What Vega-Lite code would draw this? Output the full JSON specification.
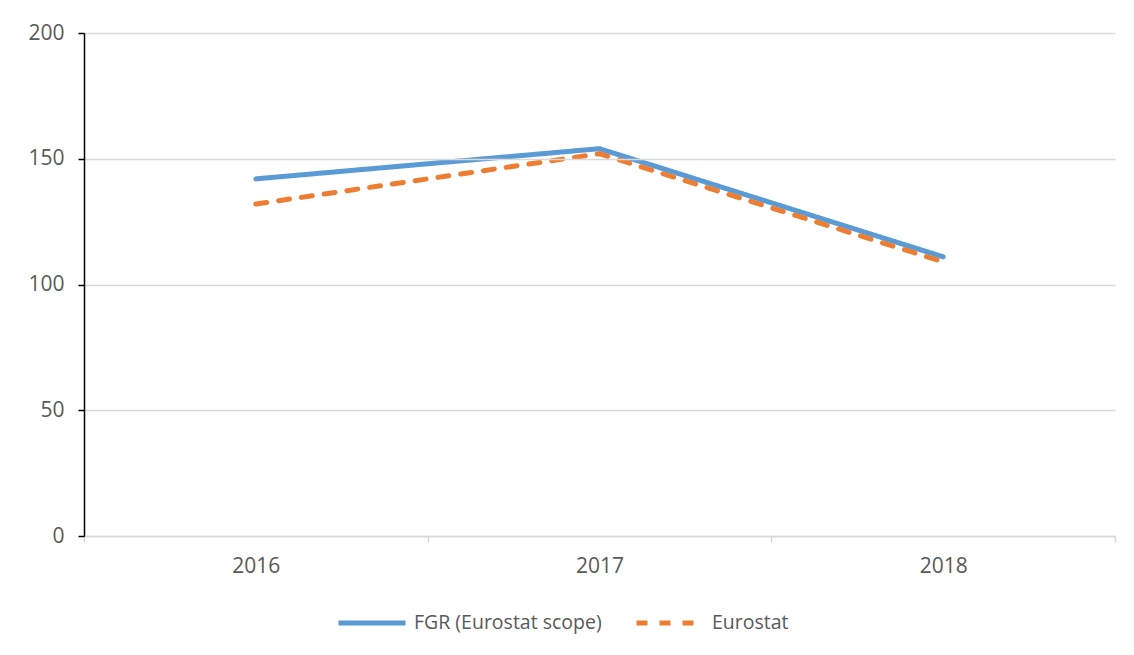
{
  "$schema": "https://vega.github.io/schema/vega-lite/v6.json",
  "width": 1031,
  "height": 503,
  "autosize": {"type": "none"},
  "padding": {"left": 84, "top": 33, "right": 19, "bottom": 119},
  "background": "white",
  "config": {
    "view": {"stroke": null},
    "font": "Open Sans"
  },
  "data": {
    "values": [
      {"year": "2016", "series": "FGR (Eurostat scope)", "value": 142},
      {"year": "2017", "series": "FGR (Eurostat scope)", "value": 154},
      {"year": "2018", "series": "FGR (Eurostat scope)", "value": 111},
      {"year": "2016", "series": "Eurostat", "value": 132},
      {"year": "2017", "series": "Eurostat", "value": 152},
      {"year": "2018", "series": "Eurostat", "value": 109}
    ]
  },
  "mark": {"type": "line", "strokeWidth": 5, "strokeCap": "round", "strokeJoin": "round"},
  "encoding": {
    "x": {
      "field": "year",
      "type": "ordinal",
      "bandPosition": 0.5,
      "scale": {"type": "band", "paddingInner": 0, "paddingOuter": 0},
      "axis": {
        "title": null,
        "labelAngle": 0,
        "labelFontSize": 21,
        "labelColor": "#595959",
        "labelPadding": 13,
        "domainColor": "#d9d9d9",
        "domainWidth": 1.5,
        "tickColor": "#d9d9d9",
        "tickWidth": 1.5,
        "tickSize": 6,
        "tickBand": "extent",
        "grid": false
      }
    },
    "y": {
      "field": "value",
      "type": "quantitative",
      "scale": {"domain": [0, 200], "nice": false},
      "axis": {
        "title": null,
        "values": [0, 50, 100, 150, 200],
        "labelFontSize": 21,
        "labelColor": "#595959",
        "labelPadding": 14,
        "domainColor": "black",
        "domainWidth": 1.5,
        "tickColor": "black",
        "tickWidth": 1.5,
        "tickSize": 6,
        "gridColor": "#d9d9d9",
        "gridWidth": 1.5,
        "zindex": 1
      }
    },
    "color": {
      "field": "series",
      "type": "nominal",
      "sort": ["FGR (Eurostat scope)", "Eurostat"],
      "scale": {"domain": ["FGR (Eurostat scope)", "Eurostat"], "range": ["#5b9bd5", "#ed7d31"]},
      "legend": {
        "title": null,
        "orient": "none",
        "legendX": 252,
        "legendY": 554,
        "direction": "horizontal",
        "symbolType": "stroke",
        "symbolSize": 4489,
        "symbolStrokeWidth": 5,
        "labelFontSize": 19.5,
        "labelColor": "#595959",
        "labelLimit": 400,
        "labelOffset": 6,
        "columnPadding": 24
      }
    },
    "strokeDash": {
      "field": "series",
      "type": "nominal",
      "sort": ["FGR (Eurostat scope)", "Eurostat"],
      "scale": {"domain": ["FGR (Eurostat scope)", "Eurostat"], "range": [[1, 0], [11, 12]]},
      "legend": {
        "title": null,
        "orient": "none",
        "legendX": 252,
        "legendY": 554,
        "direction": "horizontal",
        "symbolType": "stroke",
        "symbolSize": 4489,
        "symbolStrokeWidth": 5,
        "labelFontSize": 19.5,
        "labelColor": "#595959",
        "labelLimit": 400,
        "labelOffset": 6,
        "columnPadding": 24
      }
    }
  }
}
